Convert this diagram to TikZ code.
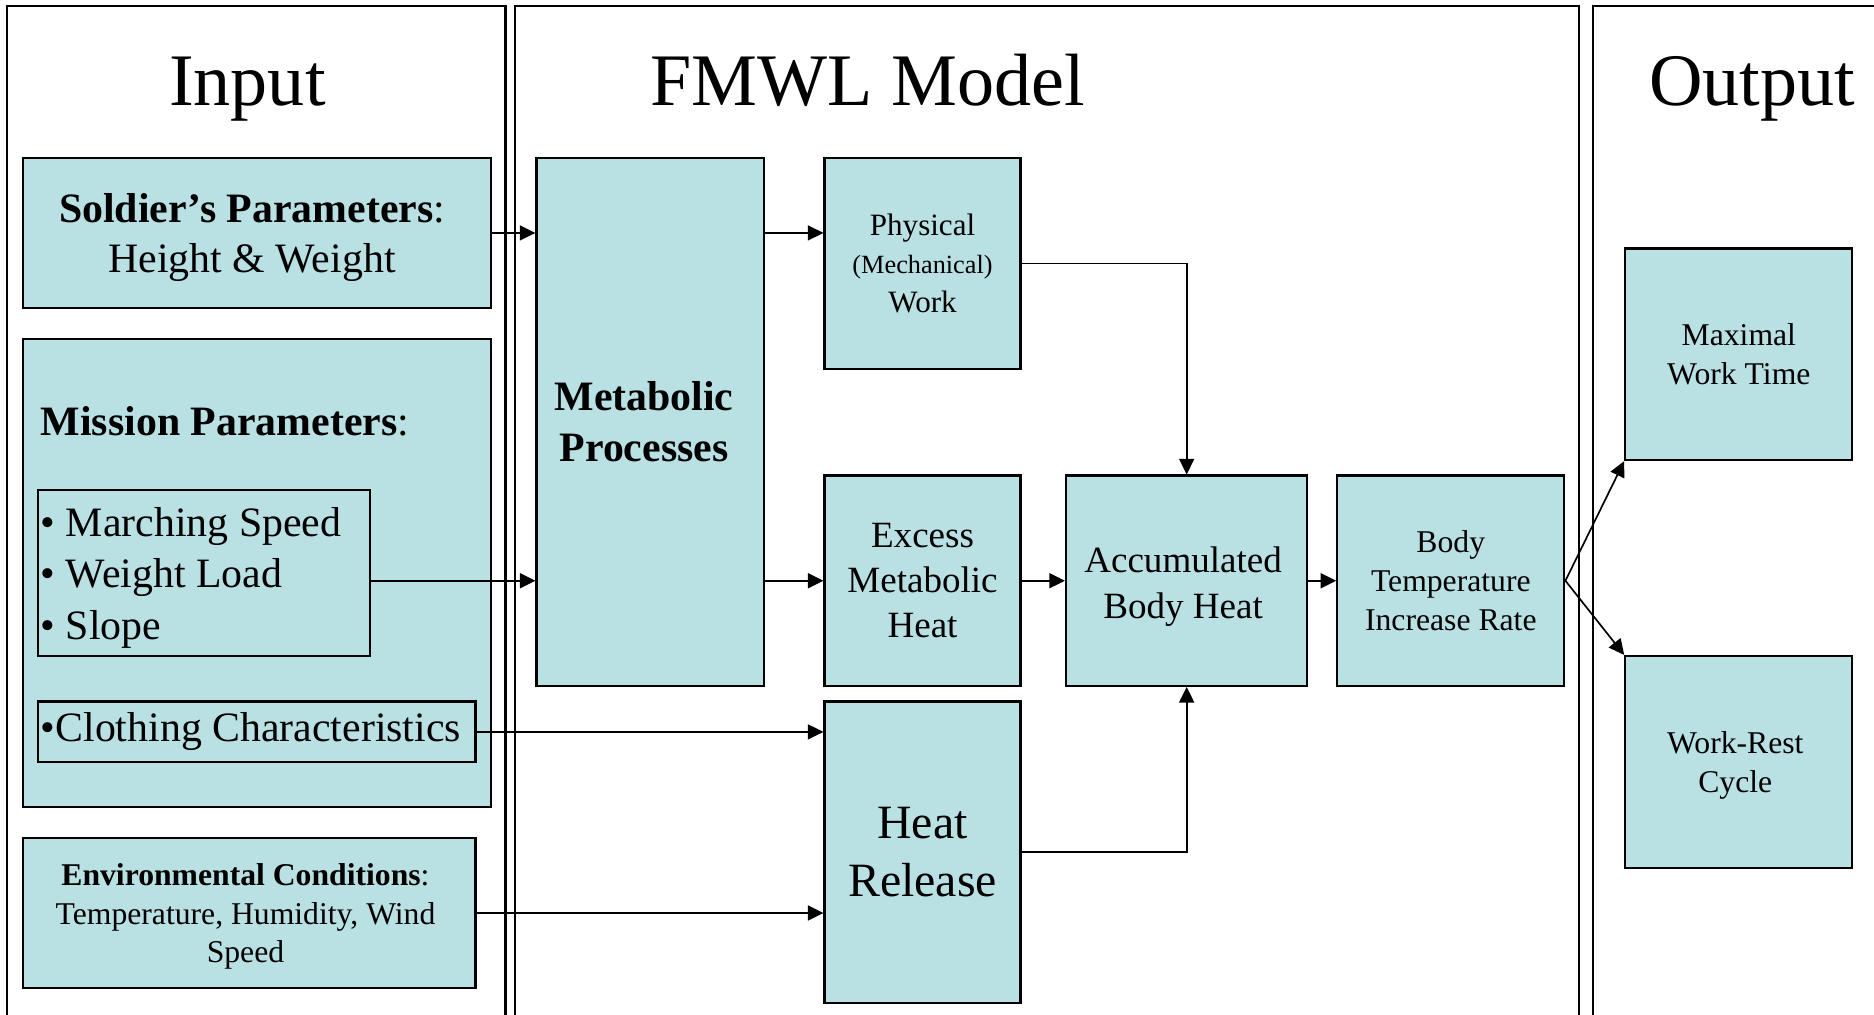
\documentclass[tikz,border=0pt]{standalone}
\usepackage{fontspec}
\setmainfont{Liberation Serif}
\usetikzlibrary{arrows.meta}
\definecolor{boxfill}{RGB}{185,224,227}
\newcommand\fsz[2]{\fontsize{#1}{#2}\selectfont}
\begin{document}
\begin{tikzpicture}[x=1pt,y=-1pt,
  blk/.style={draw=black, line width=1.8pt, fill=boxfill, inner sep=0pt,
              anchor=north west, align=center},
  txt/.style={inner sep=0pt, align=center},
  panel/.style={draw=black, line width=1.8pt},
  conn/.style={line width=1.4pt, -{Triangle[length=13pt,width=12.5pt]}},
  title/.style={font=\fsz{62}{70}, anchor=base, inner sep=0pt}
]
\useasboundingbox (0,0) rectangle (1568,849);

% three column frames, open at the bottom
\draw[panel] (6,870) -- (6,5) -- (423,5) -- (423,870);
\draw[panel] (431,870) -- (431,5) -- (1321,5) -- (1321,870);
\draw[panel] (1333,870) -- (1333,5) -- (1590,5);

% column headings
\node[title] (tin)  at (207,88) {Input};
\node[title] (tmod) at (726,88) {FMWL Model};
\node[title] (tout) at (1466,88) {Output};

% input column
\node[blk, minimum width=392pt, minimum height=126pt] (sol) at (18,131) {};
\node[txt, font=\fsz{35}{42}] (soltxt) at ([xshift=-4pt,yshift=-4pt]sol.center)
  {\textbf{Soldier’s Parameters}:\\Height \& Weight};
\node[blk, minimum width=392pt, minimum height=391pt] (mis) at (18,283) {};
\node[anchor=base west, inner sep=0pt, font=\fsz{35}{42}]
  (mislabel) at (34,364) {\textbf{Mission Parameters}:};
\node[blk, minimum width=278pt, minimum height=139pt] (bul) at (31,409) {};
\node[txt, align=left, anchor=west, font=\fsz{35}{43}] (bultxt)
  at ([xshift=3pt,yshift=-4pt]bul.west) {• Marching Speed\\• Weight Load\\• Slope};
\node[blk, minimum width=366pt, minimum height=51pt] (clo) at (31,586) {};
\node[txt, anchor=west, font=\fsz{35}{42}] (clotxt)
  at ([xshift=3pt]clo.west) {•Clothing Characteristics};
\node[blk, minimum width=379pt, minimum height=126pt] (env) at (18,700) {};
\node[txt, font=\fsz{26.5}{32}] (envtxt) at ([xshift=-3pt,yshift=-3pt]env.center)
  {\textbf{Environmental Conditions}:\\Temperature, Humidity, Wind\\Speed};

% model column
\node[blk, minimum width=190pt, minimum height=442pt] (meta) at (448,131) {};
\node[txt, font=\fsz{35}{43}\bfseries] (metatxt) at ([xshift=-5pt]meta.center)
  {Metabolic\\Processes};
\node[blk, minimum width=164pt, minimum height=177pt, font=\fsz{26}{32}]
  (phys) at (689,131) {Physical\\{\fsz{22}{32}(Mechanical)}\\Work};
\node[blk, minimum width=164pt, minimum height=176pt, font=\fsz{31}{37.5}]
  (exc) at (689,397) {Excess\\Metabolic\\Heat};
\node[blk, minimum width=164pt, minimum height=252pt, font=\fsz{40}{49}]
  (hr) at (689,586) {Heat\\Release};
\node[blk, minimum width=202pt, minimum height=176pt] (acc) at (891,397) {};
\node[txt, font=\fsz{31}{38}] (acctxt) at ([xshift=-3pt,yshift=-5pt]acc.center)
  {Accumulated\\Body Heat};
\node[blk, minimum width=190pt, minimum height=176pt, font=\fsz{26.5}{32.5}]
  (bt) at (1118,397) {Body\\Temperature\\Increase Rate};

% output column
\node[blk, minimum width=190pt, minimum height=177pt, font=\fsz{26.5}{33}]
  (mx) at (1359,207) {Maximal\\Work Time};
\node[blk, minimum width=190pt, minimum height=177pt] (wr) at (1359,548) {};
\node[txt, font=\fsz{26.5}{33}] (wrtxt) at ([xshift=-3pt,yshift=-3pt]wr.center)
  {Work-Rest\\Cycle};

% connectors
\draw[conn] (sol.east) -- (sol.east -| meta.west);
\draw[conn] (bul.east |- exc.west) -- (meta.west |- exc.west);
\draw[conn] (clo.east) -- (clo.east -| hr.west);
\draw[conn] (env.east) -- (env.east -| hr.west);
\draw[conn] (meta.east |- sol.east) -- (phys.west |- sol.east);
\draw[conn] (meta.east |- exc.west) -- (exc.west);
\draw[conn] (phys.east) -| (acc.north);
\draw[conn] (exc.east) -- (acc.west);
\draw[conn] (hr.east) -| (acc.south);
\draw[conn] (acc.east) -- (bt.west);
\draw[conn] (bt.east) -- (mx.south west);
\draw[conn] (bt.east) -- (wr.north west);
\end{tikzpicture}
\end{document}
